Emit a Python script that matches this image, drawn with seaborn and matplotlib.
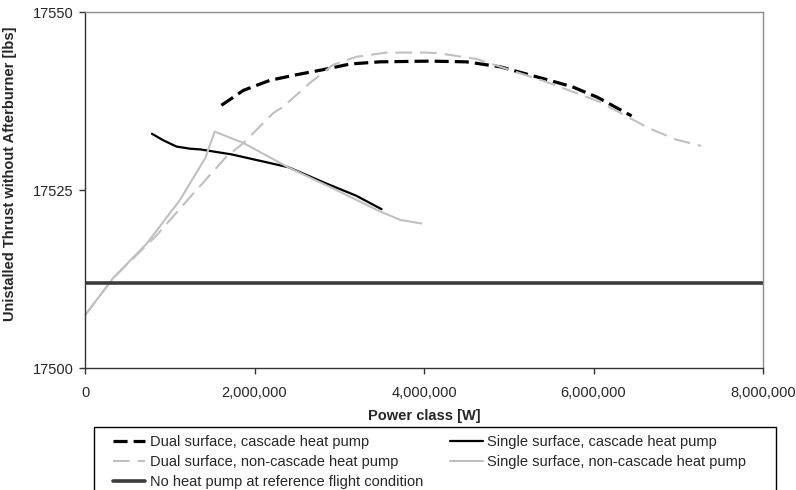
"""Thrust vs. heat pump power class, recreated with seaborn."""

import matplotlib

matplotlib.use("Agg")
import matplotlib.pyplot as plt
import seaborn as sns
from matplotlib.patches import Rectangle
from matplotlib.ticker import FuncFormatter

# power class [W] and uninstalled thrust [lbs]
dual_cascade_x = [1.61e6, 1.87e6, 2.18e6, 2.50e6, 2.81e6, 3.13e6, 3.48e6, 4.07e6,
                  4.50e6, 4.90e6, 5.45e6, 5.75e6, 6.05e6, 6.45e6]
dual_cascade_y = [17536.9, 17539.0, 17540.4, 17541.2, 17541.9, 17542.7, 17543.0,
                  17543.1, 17543.0, 17542.3, 17540.5, 17539.5, 17538.0, 17535.4]

dual_noncascade_x = [0.0, 0.33e6, 0.85e6, 1.24e6, 1.67e6, 1.87e6, 2.22e6, 2.34e6,
                     2.65e6, 2.93e6, 3.20e6, 3.56e6, 4.03e6, 4.18e6, 4.62e6, 5.44e6,
                     6.07e6, 6.65e6, 6.97e6, 7.27e6]
dual_noncascade_y = [17507.4, 17512.6, 17518.7, 17524.0, 17529.7, 17531.6, 17535.8,
                     17536.7, 17540.0, 17542.6, 17543.7, 17544.3, 17544.3, 17544.2,
                     17543.4, 17540.2, 17537.4, 17533.7, 17532.1, 17531.2]

single_cascade_x = [0.79e6, 0.92e6, 1.08e6, 1.24e6, 1.36e6, 1.73e6, 2.14e6, 2.40e6,
                    2.85e6, 3.20e6, 3.50e6]
single_cascade_y = [17532.9, 17532.0, 17531.1, 17530.8, 17530.7, 17530.0, 17528.9,
                    17528.2, 17525.9, 17524.2, 17522.3]

single_noncascade_x = [0.0, 0.33e6, 0.73e6, 1.12e6, 1.42e6, 1.53e6, 1.87e6, 2.38e6,
                       2.93e6, 3.48e6, 3.72e6, 3.97e6]
single_noncascade_y = [17507.4, 17512.6, 17517.5, 17523.6, 17529.5, 17533.2, 17531.6,
                       17528.3, 17525.2, 17522.0, 17520.8, 17520.3]

reference_thrust = 17512.0

y_ticks = [17500, 17525, 17550]
x_ticks = [0, 2e6, 4e6, 6e6, 8e6]

sns.set_theme(style="ticks")
plt.rcParams["font.family"] = ["Liberation Sans", "DejaVu Sans"]

fig = plt.figure(figsize=(7.96, 4.9), dpi=100)
ax = fig.add_axes([85 / 796, 1 - 368 / 490, 678 / 796, 356 / 490])

sns.lineplot(x=dual_cascade_x, y=dual_cascade_y, ax=ax, color="black", lw=2.3,
             linestyle=(0, (4.4, 1.9)), label="Dual surface, cascade heat pump")
sns.lineplot(x=dual_noncascade_x, y=dual_noncascade_y, ax=ax, color="#c0c0c0", lw=1.5,
             linestyle=(0, (8, 3.8)), label="Dual surface, non-cascade heat pump")
sns.lineplot(x=single_cascade_x, y=single_cascade_y, ax=ax, color="black", lw=1.6,
             label="Single surface, cascade heat pump")
sns.lineplot(x=single_noncascade_x, y=single_noncascade_y, ax=ax, color="#c0c0c0", lw=1.5,
             label="Single surface, non-cascade heat pump")
ax.axhline(reference_thrust, color="#3c3c3c", lw=2.6,
           label="No heat pump at reference flight condition")

ax.set_xlim(0, 8e6)
ax.set_ylim(17500, 17550)
ax.set_xticks(x_ticks)
ax.set_yticks(y_ticks)
ax.xaxis.set_major_formatter(FuncFormatter(lambda v, _: f"{v:,.0f}"))
ax.tick_params(direction="out", length=4, width=1, color="#333333",
               labelsize=10.5, pad=4)
ax.tick_params(axis="x", pad=9)

for side in ["left", "bottom"]:
    ax.spines[side].set_color("#333333")
    ax.spines[side].set_linewidth(1.0)
for side in ["top", "right"]:
    ax.spines[side].set_visible(True)
    ax.spines[side].set_color("#8c8c8c")
    ax.spines[side].set_linewidth(1.0)

ax.set_xlabel("Power class [W]", fontsize=10.5, fontweight="bold")
ax.set_ylabel("Unistalled Thrust without Afterburner [lbs]", fontsize=10.5,
              fontweight="bold")
ax.xaxis.set_label_coords(0.5, -(409 - 368) / 356, transform=ax.transAxes)
ax.yaxis.set_label_coords(-(85 - 17) / 678, (368 - 174) / 356, transform=ax.transAxes)

# legend box (runs off the bottom edge like the original)
fig.add_artist(Rectangle((94 / 796, -0.05), 682 / 796, 0.05 + 63 / 490,
                         transform=fig.transFigure, facecolor="white",
                         edgecolor="black", linewidth=1.0, zorder=1))

handles, labels = ax.get_legend_handles_labels()
order = [0, 1, 4, 2, 3]
ax.get_legend().remove()
leg = fig.legend(
    [handles[i] for i in order],
    [labels[i] for i in order],
    ncol=2,
    loc="upper left",
    bbox_to_anchor=(108 / 796, 1 - 430 / 490, 643 / 796, 0.0),
    bbox_transform=fig.transFigure,
    mode="expand",
    borderaxespad=0.0,
    fontsize=10.5,
    frameon=False,
    handlelength=2.2,
    handletextpad=0.3,
    labelspacing=0.42,
    borderpad=0.35,
)
leg.set_zorder(5)

fig.savefig("out.png", dpi=100)
